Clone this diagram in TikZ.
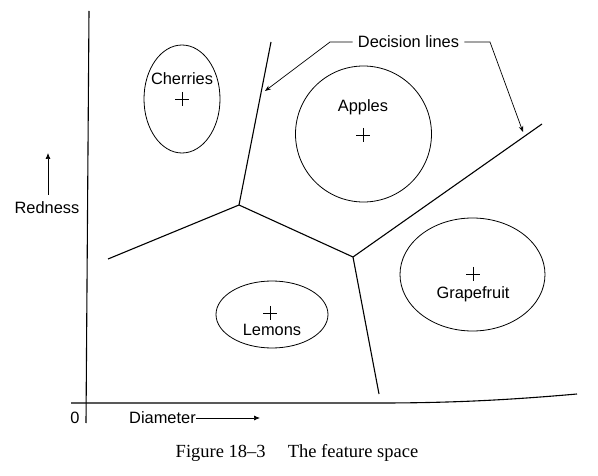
\documentclass[tikz,border=0pt]{standalone}
\usepackage{fontspec}
\setmainfont{Liberation Sans}
\newfontfamily\capfont[Ligatures=TeX]{Liberation Serif}
\usetikzlibrary{arrows.meta}

\tikzset{
  lab/.style={inner sep=0pt, font=\fontsize{16.4}{18}\selectfont},
  bound/.style={line width=1.1pt},
  region/.style={draw, line width=0.8pt},
  lead/.style={line width=0.7pt},
}

\begin{document}
\begin{tikzpicture}[x=10pt,y=-10pt]
\useasboundingbox (0,0) rectangle (59.8,47.6);
% axes
\draw[bound] (8.9,1.1)--(8.6,42.3);
\draw[bound] (7.1,40.3)--(38,40.3) .. controls (46,40.3) and (52,39.9) .. (57.7,39.4);
\node[lab] (zero) at (7.5,41.8) {0};
\node[lab,anchor=west] (diam) at (12.9,41.8) {Diameter};
\coordinate (diamend) at (26.0,41.8);
\draw[lead,-{Latex[length=6pt,width=5pt]}] (diam.east)--(diamend);
\node[lab] (red) at (4.7,20.8) {Redness};
\coordinate (redend) at (4.8,15.3);
\draw[lead,-{Latex[length=6pt,width=5pt]}] (4.8,19.5)--(redend);
% fruit regions
\draw[region] (18.2,9.9) ellipse (3.8 and 5.4);
\draw[region] (36.35,13.4) circle (6.8);
\draw[region] (27.2,31.45) ellipse (5.6 and 3.35);
\draw[region] (47.25,27.45) ellipse (7.25 and 5.65);
\node[lab] (cherries) at (18.2,7.9) {Cherries};
\node[lab] (apples) at (36.3,10.7) {Apples};
\node[lab] (lemons) at (27.2,33.0) {Lemons};
\node[lab] (grape) at (47.3,29.4) {Grapefruit};
% centres
\foreach \n/\x/\y in {cc/18.2/9.9, ac/36.3/13.5, lc/27.0/31.3, gc/47.3/27.4}
  \coordinate (\n) at (\x,\y);
\foreach \n in {cc,ac,lc,gc}
  \draw[lead] (\n) +(-0.7,0)--+(0.7,0) (\n) +(0,-0.7)--+(0,0.7);
% decision lines
\coordinate (ja) at (23.9,20.5);
\coordinate (jb) at (35.3,25.7);
\draw[bound] (27.1,4.2)--(ja)--(10.8,25.9);
\draw[bound] (ja)--(jb)--(37.9,39.4);
\draw[bound] (jb)--(54.2,12.4);
\node[lab] (dec) at (40.85,4.2) {Decision lines};
\coordinate (tipa) at (26.5,9.1);
\coordinate (tipb) at (52.3,13.2);
\draw[lead,-{Stealth[length=6pt,width=4.5pt]}] ([xshift=-5pt]dec.west)--(33.0,4.2)--(tipa);
\draw[lead,-{Stealth[length=6pt,width=4.5pt]}] ([xshift=5pt]dec.east)--(49.0,4.2)--(tipb);
% caption
\node[inner sep=0pt, font=\capfont\fontsize{18.5}{20}\selectfont] (cap) at (29.7,45.3) {Figure 18--3\hspace{1.2em}The feature space};
\end{tikzpicture}
\end{document}
